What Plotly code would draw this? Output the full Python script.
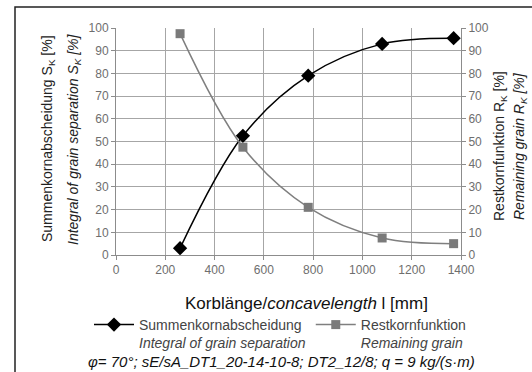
import plotly.graph_objects as go

# Data
length_mm = [260, 515, 780, 1080, 1370]
summen = [3, 52.5, 79, 93, 95.5]
rest = [97.5, 47.5, 21, 7.5, 5]
x_ticks = [0, 200, 400, 600, 800, 1000, 1200, 1400]
y_ticks = [0, 10, 20, 30, 40, 50, 60, 70, 80, 90, 100]

W, H = 532, 372
L, R, T, B = 116, 461, 28, 255  # plot area pixel box


def px(x):
    return (x - L) / (R - L)


def py(y):
    return (B - y) / (B - T)


FONT = "Liberation Sans, Arial, sans-serif"
GRID = "#a6a6a6"
AX = "#8c8c8c"

fig = go.Figure()
fig.add_trace(go.Scatter(
    x=length_mm, y=summen, mode="lines+markers", line_shape="spline",
    name="Summenkornabscheidung<br><i>Integral of grain separation</i>",
    line=dict(color="black", width=1.5),
    marker=dict(symbol="diamond", size=11, color="black"),
))
fig.add_trace(go.Scatter(
    x=length_mm, y=rest, mode="lines+markers", line_shape="spline",
    name="Restkornfunktion<br><i>Remaining grain</i>",
    line=dict(color="#7f7f7f", width=1.5),
    marker=dict(symbol="square", size=9, color="#7a7a7a"),
    yaxis="y2",
))

axis_common = dict(
    showline=True, linecolor=AX, linewidth=1,
    ticks="outside", ticklen=4, tickcolor=AX,
    tickfont=dict(family=FONT, size=12, color="#6e6e6e"),
    zeroline=False,
)

fig.update_layout(
    width=W, height=H,
    margin=dict(l=L, r=W - R, t=T, b=H - B),
    paper_bgcolor="white", plot_bgcolor="white",
    font=dict(family=FONT),
    xaxis=dict(range=[0, 1400], tickvals=x_ticks, showgrid=True,
               gridcolor=GRID, gridwidth=1, **axis_common),
    yaxis=dict(range=[0, 100], tickvals=y_ticks, showgrid=True,
               gridcolor=GRID, gridwidth=1, **axis_common),
    yaxis2=dict(range=[0, 100], tickvals=y_ticks, overlaying="y", side="right",
                showgrid=False, **axis_common),
    showlegend=True,
    legend=dict(orientation="h", x=px(89), y=py(309), xanchor="left", yanchor="top",
                font=dict(family=FONT, size=14, color="#444"),
                valign="top", itemwidth=40, tracegroupgap=0,
                bgcolor="rgba(0,0,0,0)"),
)

ann = [
    dict(text="Summenkornabscheidung S<sub>K</sub> [%]", x=px(48), y=py(139), textangle=-90,
         font=dict(size=14, color="#222")),
    dict(text="<i>Integral of grain separation S<sub>K</sub> [%]</i>", x=px(74), y=py(139), textangle=-90,
         font=dict(size=14, color="#222")),
    dict(text="Restkornfunktion R<sub>K</sub> [%]", x=px(500), y=py(146), textangle=-90,
         font=dict(size=14, color="#222")),
    dict(text="<i>Remaining grain R<sub>K</sub> [%]</i>", x=px(520), y=py(146), textangle=-90,
         font=dict(size=14, color="#222")),
    dict(text="Korblänge/<i>concavelength</i> l [mm]", x=px(306), y=py(303),
         font=dict(size=17, color="#111")),
    dict(text="<i>φ= 70°; sE/sA_DT1_20-14-10-8; DT2_12/8; q = 9 kg/(s·m)</i>", x=px(281), y=py(361),
         font=dict(size=15, color="#111")),
]
for a in ann:
    a.update(xref="paper", yref="paper", showarrow=False, xanchor="center", yanchor="middle")
    a["font"]["family"] = FONT
    fig.add_annotation(**a)

# outer frame
fig.add_shape(type="rect", xref="paper", yref="paper",
              x0=px(15), y0=py(400), x1=px(560), y1=py(7),
              line=dict(color="#222", width=1.5), layer="below")

fig.write_html("out.html")
